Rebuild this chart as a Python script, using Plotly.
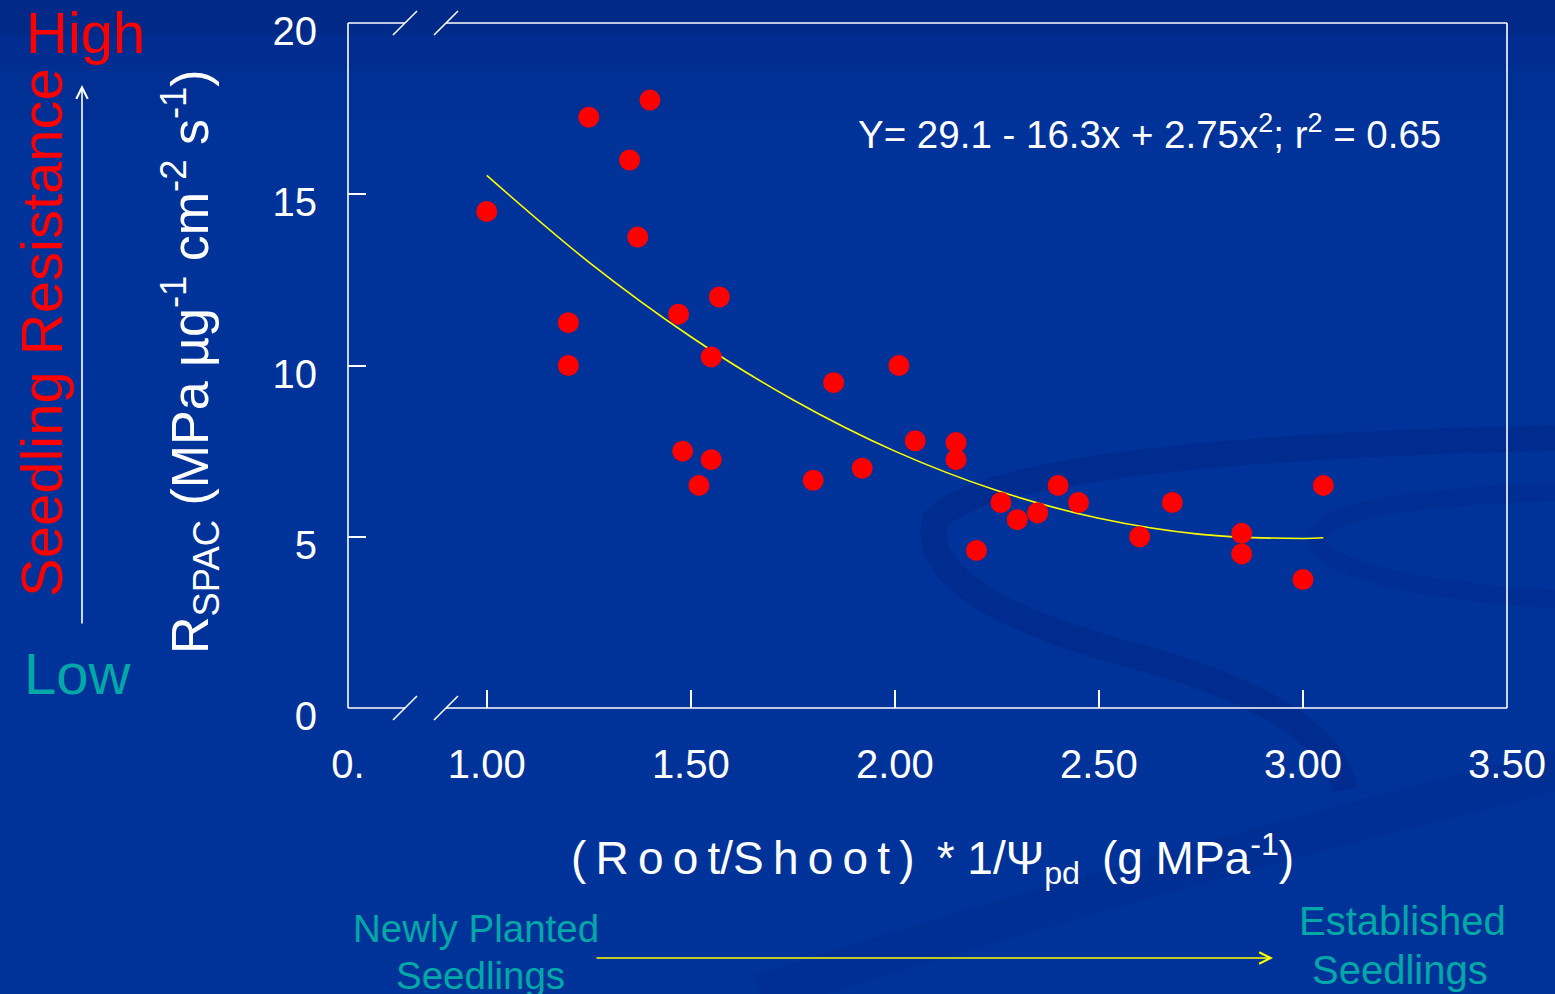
import plotly.graph_objects as go

# ---- data ----
x_vals = [1.00, 1.20, 1.20, 1.25, 1.35, 1.37, 1.40, 1.47, 1.48, 1.52, 1.55, 1.55, 1.57,
          1.80, 1.85, 1.92, 2.01, 2.05, 2.15, 2.15, 2.20, 2.26, 2.30, 2.35, 2.40, 2.45,
          2.60, 2.68, 2.85, 2.85, 3.00, 3.05]
y_vals = [14.5, 11.25, 10.0, 17.25, 16.0, 13.75, 17.75, 11.5, 7.5, 6.5, 10.25, 7.25, 12.0,
          6.65, 9.5, 7.0, 10.0, 7.8, 7.75, 7.25, 4.6, 6.0, 5.5, 5.7, 6.5, 6.0,
          5.0, 6.0, 5.1, 4.5, 3.75, 6.5]
fit_x = [1.00, 1.25, 1.50, 1.75, 2.00, 2.25, 2.50, 2.75, 3.00, 3.05]
fit_y = [15.55, 13.02, 10.84, 9.00, 7.50, 6.35, 5.54, 5.07, 4.95, 4.97]

x_tickvals = [0.66, 1.0, 1.5, 2.0, 2.5, 3.0, 3.5]
x_ticktext = ["0.", "1.00", "1.50", "2.00", "2.50", "3.00", "3.50"]
y_tickvals = [0, 5, 10, 15, 20]

BG = "#003399"
TEAL = "#00A8A8"
FONT = "Liberation Sans, Arial, sans-serif"
TS = "\u2009"  # thin space used for letter spacing

W, H = 1555, 994
L, R, T, B = 348, 48, 23, 286
PW, PH = W - L - R, H - T - B


def px(x):
    return (x - L) / PW


def py(y):
    return (H - B - y) / PH


def spaced(s):
    return TS.join(list(s))


fig = go.Figure()
fig.add_trace(go.Scatter(x=fit_x, y=fit_y, mode="lines", line=dict(color="#FFFF00", width=1.6, shape="spline"),
                         hoverinfo="skip", showlegend=False))
fig.add_trace(go.Scatter(x=x_vals, y=y_vals, mode="markers",
                         marker=dict(color="#FF0000", size=21, line=dict(width=0)), showlegend=False))

shapes = []
# subtle background shading (darker top, swirl bands)
for y1, op in [(120, 0.05), (70, 0.06), (35, 0.07)]:
    shapes.append(dict(type="rect", xref="paper", yref="paper", x0=px(0), x1=px(W), y0=py(y1), y1=py(0),
                       fillcolor="rgba(0,0,60,%s)" % op, line=dict(width=0), layer="below"))


def path_px(points):
    d = "M %f,%f" % (px(points[0][0]), py(points[0][1]))
    for i in range(1, len(points) - 1, 2):
        (cx, cy), (ex, ey) = points[i], points[i + 1]
        d += " Q %f,%f %f,%f" % (px(cx), py(cy), px(ex), py(ey))
    return d


swirl_bands = [
    ([(1560, 438), (1000, 450), (935, 520), (915, 600), (1150, 660), (1330, 712), (1345, 790)], 26, 0.2),
    ([(1560, 492), (1300, 500), (1318, 545), (1345, 585), (1560, 600)], 18, 0.15),
    ([(760, 994), (1150, 870), (1560, 770)], 40, 0.10),
]
for pts, wdt, op in swirl_bands:
    shapes.append(dict(type="path", xref="paper", yref="paper", path=path_px(pts),
                       line=dict(color="rgba(0,20,110,%s)" % op, width=wdt), layer="below"))

line_style = dict(color="white", width=1.6)
# frame with axis breaks
for yy in (0, 1):
    shapes.append(dict(type="line", xref="paper", yref="paper", x0=0, x1=px(405), y0=yy, y1=yy, line=line_style))
    shapes.append(dict(type="line", xref="paper", yref="paper", x0=px(446), x1=1, y0=yy, y1=yy, line=line_style))
    ybase = H - B if yy == 0 else T
    for sx in (393, 434):
        shapes.append(dict(type="line", xref="paper", yref="paper",
                           x0=px(sx), y0=py(ybase + 12), x1=px(sx + 24), y1=py(ybase - 12), line=line_style))
shapes.append(dict(type="line", xref="paper", yref="paper", x0=0, x1=0, y0=0, y1=1, line=line_style))
shapes.append(dict(type="line", xref="paper", yref="paper", x0=1, x1=1, y0=0, y1=1, line=line_style))

x_title = "%s/%s%s* 1/Ψ<sub>pd</sub>%s (g MPa<sup>-1</sup>)" % (spaced("(Root"), spaced("Shoot)"), TS + " ", TS)

annotations = [
    dict(text="High", x=px(24), y=py(33), xanchor="left", yanchor="middle", showarrow=False,
         font=dict(family=FONT, size=58, color="#FF0000")),
    dict(text="Low", x=px(22), y=py(673), xanchor="left", yanchor="middle", showarrow=False,
         font=dict(family=FONT, size=58, color=TEAL)),
    dict(text="Seedling Resistance", x=px(41), y=py(333), xanchor="center", yanchor="middle", textangle=-90,
         showarrow=False, font=dict(family=FONT, size=58, color="#FF0000")),
    dict(text="R<sub>SPAC</sub> (MPa µg<sup>-1</sup> cm<sup>-2</sup> s<sup>-1</sup>)", x=px(190), y=py(362),
         xanchor="center", yanchor="middle", textangle=-90, showarrow=False,
         font=dict(family=FONT, size=52, color="white")),
    dict(text="Y= 29.1 - 16.3x + 2.75x<sup>2</sup>; r<sup>2</sup> = 0.65", x=px(1149), y=py(132),
         xanchor="center", yanchor="middle", showarrow=False, font=dict(family=FONT, size=38.5, color="white")),
    dict(text=x_title, x=px(932), y=py(858),
         xanchor="center", yanchor="middle", showarrow=False, font=dict(family=FONT, size=46, color="white")),
    dict(text="Newly Planted", x=px(476), y=py(928), xanchor="center", yanchor="middle", showarrow=False,
         font=dict(family=FONT, size=38.5, color=TEAL)),
    dict(text="Seedlings", x=px(480), y=py(975), xanchor="center", yanchor="middle", showarrow=False,
         font=dict(family=FONT, size=38.5, color=TEAL)),
    dict(text="Established", x=px(1402), y=py(921), xanchor="center", yanchor="middle", showarrow=False,
         font=dict(family=FONT, size=40, color=TEAL)),
    dict(text="Seedlings", x=px(1400), y=py(970), xanchor="center", yanchor="middle", showarrow=False,
         font=dict(family=FONT, size=40, color=TEAL)),
    # arrows
    dict(text="", x=px(1273), y=py(958), ax=-(1273 - 595), ay=0, showarrow=True, arrowhead=5,
         arrowsize=1.4, arrowwidth=1.6, arrowcolor="#FFFF00"),
    dict(text="", x=px(82), y=py(85), ax=0, ay=625 - 85, showarrow=True, arrowhead=5,
         arrowsize=1.4, arrowwidth=1.6, arrowcolor="white"),
]
for a in annotations:
    a.setdefault("xref", "paper")
    a.setdefault("yref", "paper")

fig.update_layout(
    width=W, height=H,
    margin=dict(l=L, r=R, t=T, b=B, pad=0, autoexpand=False),
    paper_bgcolor=BG, plot_bgcolor="rgba(0,0,0,0)",
    showlegend=False,
    shapes=shapes,
    annotations=annotations,
    xaxis=dict(range=[0.66, 3.5], tickvals=x_tickvals, ticktext=x_ticktext, ticks="inside", ticklen=18,
               tickwidth=1.6, tickcolor="white", showgrid=False, zeroline=False, showline=False,
               automargin=False,
               tickfont=dict(family=FONT, size=40, color="white"), ticklabelstandoff=29),
    yaxis=dict(range=[0, 20], tickvals=y_tickvals, ticks="inside", ticklen=18, tickwidth=1.6,
               tickcolor="white", showgrid=False, zeroline=False, showline=False,
               automargin=False,
               tickfont=dict(family=FONT, size=40, color="white"), ticklabelstandoff=30,
               ticklabelshift=8),
)

fig.write_html("out.html")
